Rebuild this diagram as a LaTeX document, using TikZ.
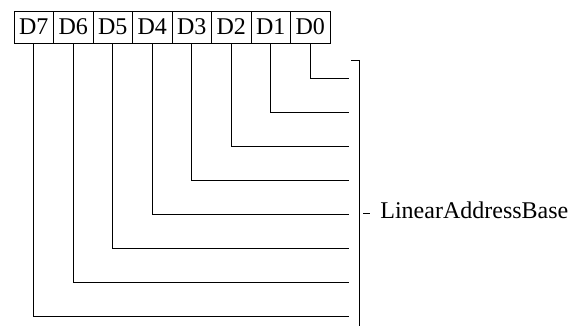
\documentclass[tikz,border=0pt]{standalone}
\usepackage{fontspec}
\setmainfont{Liberation Serif}
\begin{document}
\begin{tikzpicture}[x=1pt,y=-1pt,line width=.8pt,font=\fontsize{24}{26}\selectfont,
  bitbox/.style={draw,minimum width=39.5pt,minimum height=32pt,inner sep=0pt,outer sep=0pt}]
\useasboundingbox (0,0) rectangle (583,330);
\foreach \i in {0,...,7}{
  \node[bitbox] (d\i) at ({33.75+(7-\i)*39.5},27) {D\i};
  \coordinate (e\i) at (349,{78+\i*34});
  \draw (d\i.south) |- (e\i);
}
\coordinate (top) at (351,60);\coordinate (bot) at (359,326);
\draw (top) -| (bot);
\coordinate (tk) at (363,213);
\node[anchor=west,inner sep=10pt] (lab) at (370,210) {LinearAddressBase};
\draw (tk) -- (lab.west |- tk);
\end{tikzpicture}
\end{document}
